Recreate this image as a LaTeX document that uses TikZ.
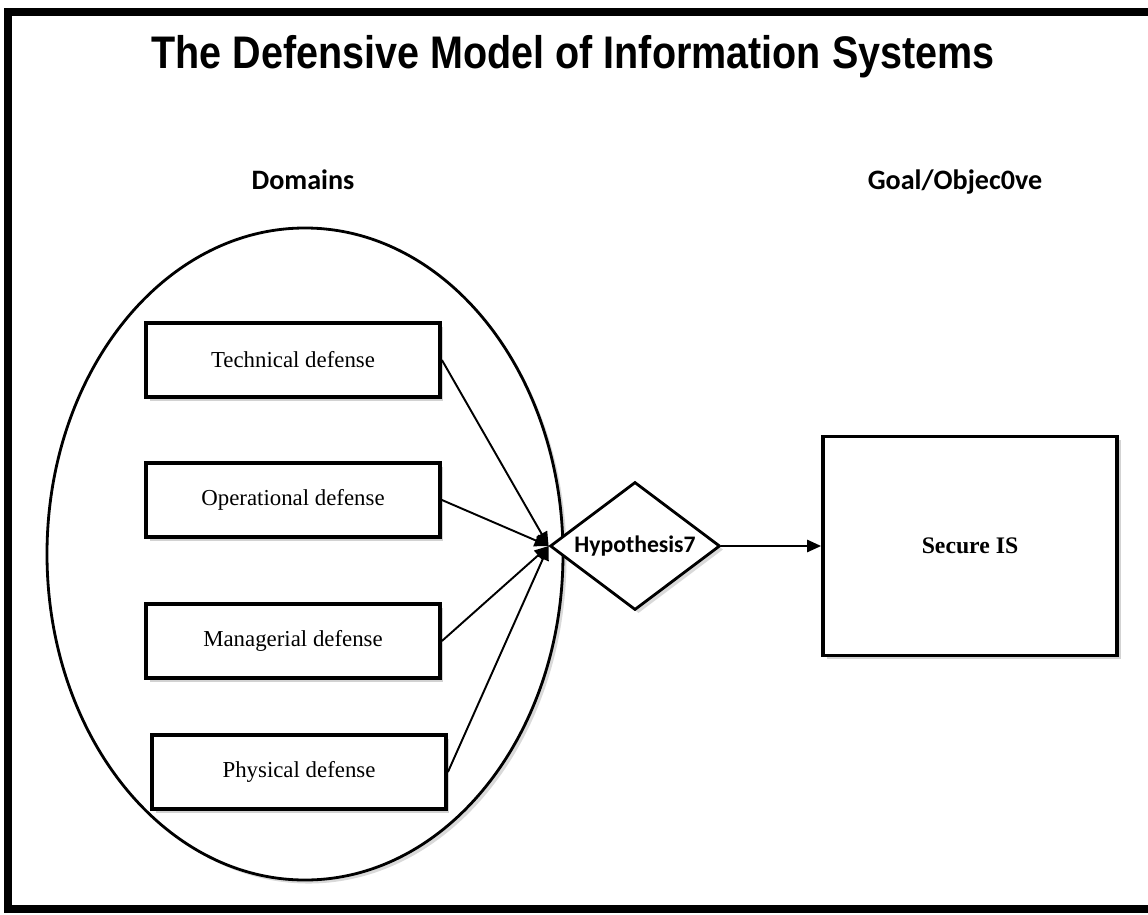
\documentclass[tikz,border=0pt]{standalone}
\usepackage{fontspec}
\setmainfont{Liberation Serif}
\newfontfamily\headfont{Liberation Sans}
\newfontfamily\calfont{Carlito}
\usetikzlibrary{shapes.geometric,arrows.meta,shadows}

\tikzset{
  defbox/.style={draw,line width=2.2pt,fill=white,minimum width=5.88cm,minimum height=1.48cm,
    font=\fontsize{13}{15}\selectfont,drop shadow={shadow xshift=2pt,shadow yshift=-2pt,opacity=0.35}},
  heading/.style={anchor=base,font=\calfont\bfseries\fontsize{16}{18}\selectfont},
  link/.style={line width=1.1pt,-{Triangle[length=8pt,width=7pt]}}
}

\begin{document}
\begin{tikzpicture}[x=0.02cm,y=-0.02cm]
      \useasboundingbox (0,0) rectangle (1148,915);
      % frame, open on the right
      \draw[line width=4.5pt] (1148,12) -- (8,12) -- (8,909) -- (1148,909);
      \node[anchor=base,font=\headfont\bfseries\fontsize{26}{30}\selectfont,xscale=0.865] (title) at (573,69) {The Defensive Model of Information Systems};
      \node[heading] (dom) at (303,190) {Domains};
      \node[heading] (goal) at (955,190) {Goal/Objec0ve};
      % the domains
      \draw[line width=1.6pt,drop shadow={shadow xshift=2pt,shadow yshift=-2pt,opacity=0.3},fill=white] (305,554) ellipse (258 and 326);
      \node[defbox] (tech) at (293,360) {Technical defense};
      \node[defbox] (oper) at (293,500) {Operational defense};
      \node[defbox] (man) at (293,641) {Managerial defense};
      \node[defbox] (phys) at (299,772) {Physical defense};
      \node[diamond,draw,line width=1.6pt,fill=white,aspect=1.33,inner sep=1pt,minimum width=3.4cm,minimum height=2.56cm,
        font=\calfont\bfseries\fontsize{13.5}{15}\selectfont,drop shadow={shadow xshift=2pt,shadow yshift=-2pt,opacity=0.3}] (hyp) at (635,546) {Hypothesis7};
      \node[defbox,minimum width=5.88cm,minimum height=4.38cm,font=\bfseries\fontsize{13.5}{15}\selectfont] (sec) at (970,546) {Secure IS};
      \foreach \d in {tech,oper,man,phys}
        \draw[link] (\d.east) -- (hyp.west);
      \draw[link] (hyp.east) -- (sec.west);
    \end{tikzpicture}
\end{document}
